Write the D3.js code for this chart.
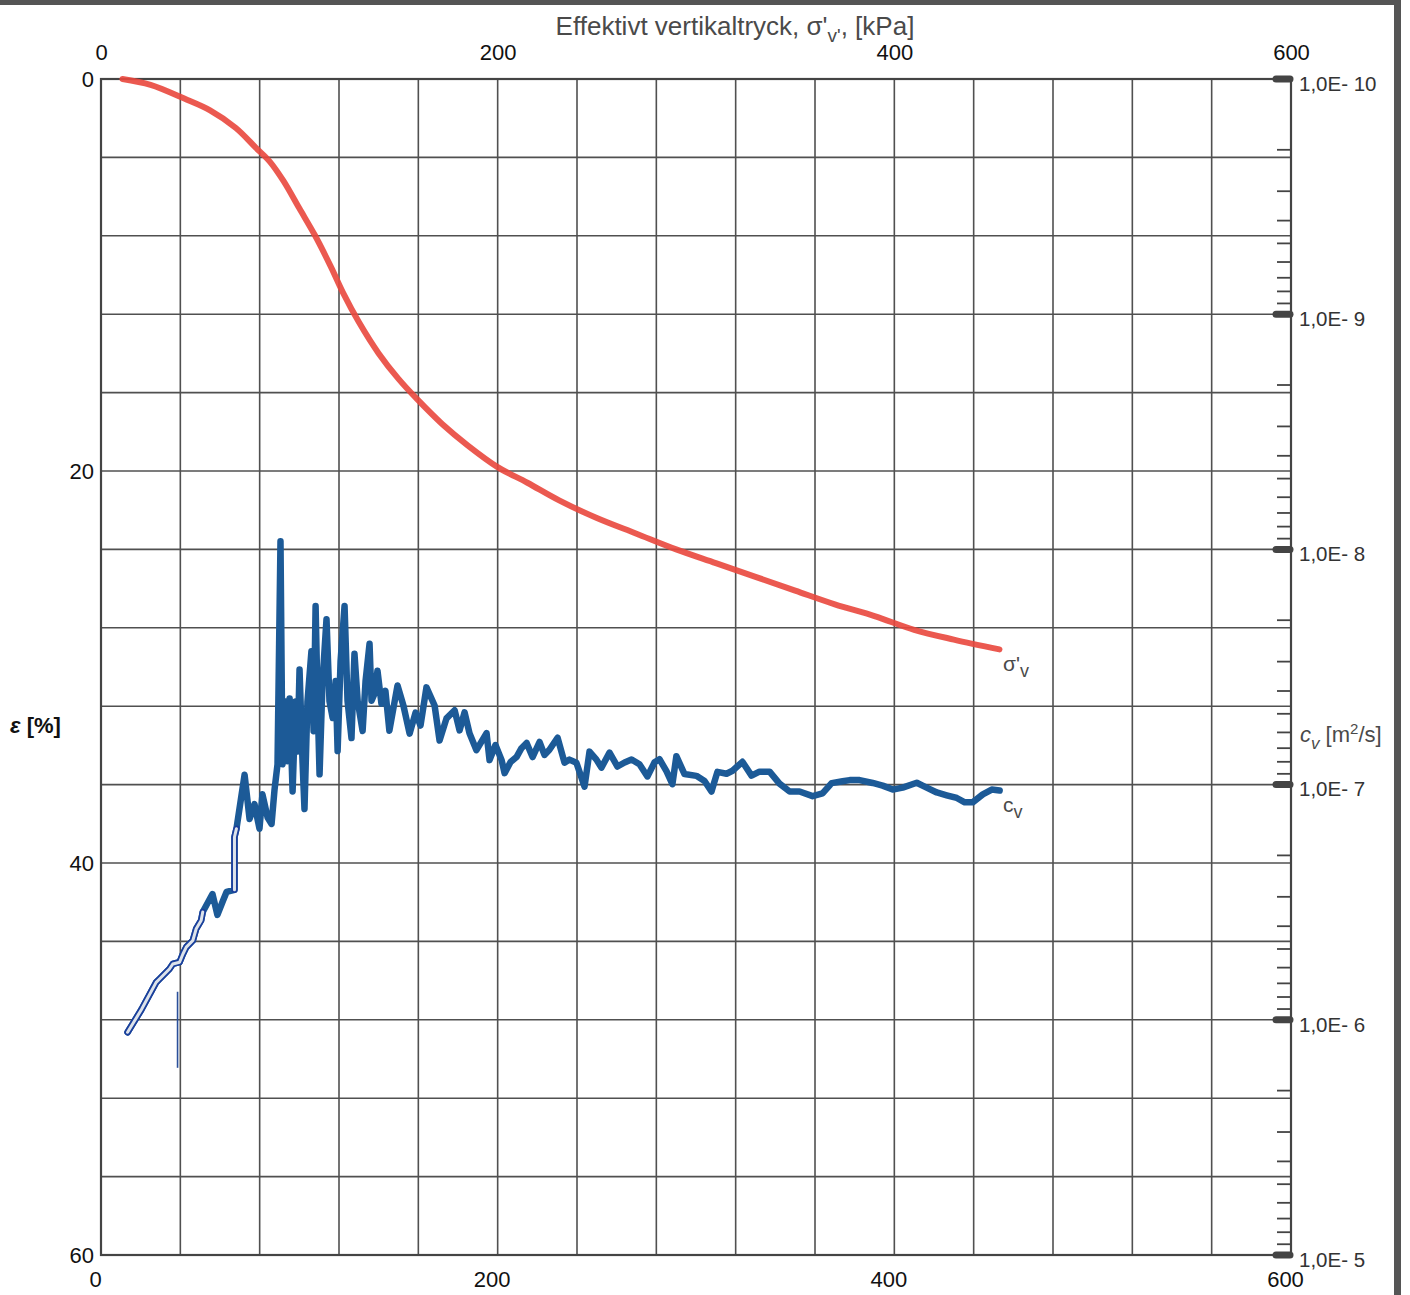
<!DOCTYPE html>
<html>
<head>
<meta charset="utf-8">
<script src="https://cdn.jsdelivr.net/npm/d3@7"></script>
<style>
  html, body { margin: 0; padding: 0; background: #fff; }
  svg { display: block; }
  text { font-family: "Liberation Sans", Arial, sans-serif; }
</style>
</head>
<body>
<svg id="chart" width="1410" height="1295"></svg>
<script>
// Compression curve: effective vertical stress [kPa] vs strain [%]
const strainSigmaKpa = [10.8, 25, 42, 55, 68, 78, 85, 92, 100, 108, 116, 122, 130, 140, 150, 160,
                        172, 185, 200, 215, 231, 250, 270, 290, 310, 330, 350, 370, 390, 410, 430, 453];
const strainPct      = [0.0, 0.3, 1.0, 1.6, 2.5, 3.5, 4.2, 5.2, 6.6, 8.0, 9.6, 10.9, 12.4, 14.0, 15.3, 16.4,
                        17.6, 18.7, 19.8, 20.6, 21.5, 22.4, 23.2, 24.0, 24.7, 25.4, 26.1, 26.8, 27.4, 28.1, 28.6, 29.1];

// Coefficient of consolidation: effective vertical stress [kPa] vs cv [m2/s]
const cvSigmaKpa = [
  13.4, 20.4, 27.8, 29.5, 34.5, 36.2, 39.6, 41.3, 43.0, 46.3,
  48.0, 50.5, 51.3, 56.2, 58.7, 61.3, 63.3, 67.3, 67.3, 68.3,
  72.4, 74.9, 77.4, 79.9, 81.4, 84.0, 86.0, 87.5, 89.0, 90.5,
  91.5, 93.0, 94.0, 95.1, 96.6, 98.1, 99.1, 100.1, 101.6, 102.6,
  104.1, 106.1, 107.2, 108.2, 109.2, 110.2, 111.7, 113.7, 115.2, 116.8,
  118.3, 119.3, 120.8, 122.8, 124.3, 126.3, 127.8, 129.4, 131.9, 133.4,
  135.4, 136.4, 137.9, 139.4, 141.4, 143.4, 145.4, 149.5, 152.5, 155.6,
  158.6, 161.1, 164.1, 168.2, 170.7, 174.2, 178.3, 180.8, 183.3, 185.8,
  189.3, 194.4, 195.9, 198.9, 202.0, 203.5, 206.5, 209.5, 212.0, 214.6,
  217.6, 221.1, 223.6, 226.1, 230.2, 233.7, 236.2, 239.7, 243.8, 246.3,
  249.8, 252.3, 256.4, 260.4, 264.0, 267.5, 271.5, 275.5, 279.1, 281.6,
  285.1, 288.1, 290.1, 294.2, 300.2, 304.3, 307.8, 310.8, 315.4, 318.4,
  323.4, 328.0, 332.0, 337.1, 342.1, 347.2, 352.2, 358.8, 363.8, 368.4,
  373.9, 377.5, 382.5, 389.1, 394.1, 399.2, 404.2, 411.3, 416.3, 421.4,
  426.4, 431.5, 435.5, 439.5, 444.6, 449.1, 453.1
];
const cvM2s = [
  1.13e-6, 9.04e-7, 6.93e-7, 6.71e-7, 6.08e-7, 5.79e-7, 5.69e-7, 5.25e-7, 4.91e-7, 4.60e-7,
  4.10e-7, 3.78e-7, 3.48e-7, 2.92e-7, 3.58e-7, 3.15e-7, 2.86e-7, 2.80e-7, 1.67e-7, 1.54e-7,
  9.08e-8, 1.40e-7, 1.21e-7, 1.54e-7, 1.10e-7, 1.38e-7, 1.47e-7, 1.05e-7, 8.20e-8, 9.23e-9,
  8.20e-8, 4.43e-8, 7.96e-8, 4.30e-8, 1.07e-7, 4.43e-8, 7.23e-8, 3.24e-8, 7.96e-8, 1.27e-7,
  4.43e-8, 2.71e-8, 5.93e-8, 1.74e-8, 4.42e-8, 9.04e-8, 3.63e-8, 1.98e-8, 4.42e-8, 5.21e-8,
  3.63e-8, 7.20e-8, 2.98e-8, 1.74e-8, 4.41e-8, 6.34e-8, 2.78e-8, 4.40e-8, 5.92e-8, 3.62e-8,
  2.52e-8, 4.40e-8, 4.11e-8, 3.28e-8, 4.53e-8, 3.99e-8, 5.90e-8, 3.79e-8, 4.62e-8, 6.07e-8,
  4.94e-8, 5.61e-8, 3.86e-8, 4.61e-8, 6.49e-8, 5.23e-8, 4.83e-8, 5.88e-8, 4.93e-8, 6.05e-8,
  7.14e-8, 6.04e-8, 7.87e-8, 6.79e-8, 7.87e-8, 8.94e-8, 8.02e-8, 7.64e-8, 7.00e-8, 6.65e-8,
  7.64e-8, 6.59e-8, 7.48e-8, 7.11e-8, 6.32e-8, 8.07e-8, 7.83e-8, 8.07e-8, 1.02e-7, 7.24e-8,
  7.83e-8, 8.47e-8, 7.31e-8, 8.38e-8, 8.05e-8, 7.82e-8, 8.20e-8, 9.23e-8, 8.04e-8, 7.80e-8,
  8.77e-8, 9.96e-8, 7.57e-8, 9.02e-8, 9.18e-8, 9.66e-8, 1.07e-7, 8.83e-8, 8.99e-8, 8.73e-8,
  8.00e-8, 9.16e-8, 8.81e-8, 8.81e-8, 9.91e-8, 1.07e-7, 1.07e-7, 1.12e-7, 1.09e-7, 9.86e-8,
  9.68e-8, 9.57e-8, 9.57e-8, 9.84e-8, 1.01e-7, 1.05e-7, 1.03e-7, 9.82e-8, 1.03e-7, 1.08e-7,
  1.11e-7, 1.14e-7, 1.19e-7, 1.19e-7, 1.10e-7, 1.05e-7, 1.06e-7
];
// Index ranges of the cv record drawn as an outlined (hollow) stroke
const cvOutlinedRanges = [[0, 12], [17, 19]];

// Thin vertical cv marker
const cvMarkerSigmaKpa = 38.6;
const cvMarkerRange = [7.6e-7, 1.6e-6];

// Axis ticks
const pressureTicks = [0, 200, 400, 600];
const strainTicks = [0, 20, 40, 60];
const cvTicks = [1e-10, 1e-9, 1e-8, 1e-7, 1e-6, 1e-5];
const cvTickLabels = ["1,0E- 10", "1,0E- 9", "1,0E- 8", "1,0E- 7", "1,0E- 6", "1,0E- 5"];

const svg = d3.select("#chart");
const plot = { left: 101, right: 1291, top: 79, bottom: 1255 };

const x = d3.scaleLinear().domain([0, 600]).range([plot.left, plot.right]);
const y = d3.scaleLinear().domain([0, 60]).range([plot.top, plot.bottom]);
const yCv = d3.scaleLog().domain([1e-10, 1e-5]).range([plot.top, plot.bottom]);

const gridColor = "#505050";

// Page edge bars
svg.append("rect").attr("x", 0).attr("y", 0).attr("width", 1400).attr("height", 5).attr("fill", "#555");
svg.append("rect").attr("x", 1394).attr("y", 0).attr("width", 7).attr("height", 1295).attr("fill", "#555");

// Grid
const grid = svg.append("g");
grid.selectAll("line.v").data(d3.range(0, 601, 40)).join("line")
  .attr("x1", d => x(d)).attr("x2", d => x(d))
  .attr("y1", plot.top).attr("y2", plot.bottom)
  .attr("stroke", gridColor).attr("stroke-width", 1.6);
grid.selectAll("line.h").data(d3.range(0, 61, 4)).join("line")
  .attr("x1", plot.left).attr("x2", plot.right)
  .attr("y1", d => y(d)).attr("y2", d => y(d))
  .attr("stroke", gridColor).attr("stroke-width", 1.6);

// Frame
svg.append("rect")
  .attr("x", plot.left).attr("y", plot.top)
  .attr("width", plot.right - plot.left).attr("height", plot.bottom - plot.top)
  .attr("fill", "none").attr("stroke", "#444").attr("stroke-width", 2.2);

function styleAxis(g, size, color) {
  g.select(".domain").remove();
  g.selectAll("text")
    .attr("font-family", "'Liberation Sans', Arial, sans-serif")
    .attr("font-size", size)
    .attr("fill", color);
}

// Top pressure axis
svg.append("g").attr("transform", `translate(0,${plot.top})`)
  .call(d3.axisTop(x).tickValues(pressureTicks).tickSize(0).tickPadding(19).tickFormat(d3.format("d")))
  .call(g => styleAxis(g, 22, "#111"));

// Bottom pressure axis
svg.append("g").attr("transform", `translate(0,${plot.bottom})`)
  .call(d3.axisBottom(x).tickValues(pressureTicks).tickSize(0).tickPadding(16).tickFormat(d3.format("d")))
  .call(g => styleAxis(g, 22, "#111"))
  .call(g => g.selectAll("text").attr("dx", -6));

// Left strain axis
svg.append("g").attr("transform", `translate(${plot.left},0)`)
  .call(d3.axisLeft(y).tickValues(strainTicks).tickSize(0).tickPadding(7).tickFormat(d3.format("d")))
  .call(g => styleAxis(g, 22, "#111"));

// Right cv axis (log)
svg.append("g").attr("transform", `translate(${plot.right},0)`)
  .call(d3.axisRight(yCv).tickValues(cvTicks).tickSize(0).tickPadding(8).tickFormat((d, i) => cvTickLabels[i]))
  .call(g => styleAxis(g, 20.5, "#333"))
  .call(g => g.selectAll("text").attr("dy", "0.55em"));

// Minor log ticks
const minorTicks = [];
for (let e = -10; e < -5; e++) for (let m = 2; m <= 9; m++) minorTicks.push(m * Math.pow(10, e));
svg.append("g").selectAll("line").data(minorTicks).join("line")
  .attr("x1", plot.right - 14).attr("x2", plot.right)
  .attr("y1", d => yCv(d)).attr("y2", d => yCv(d))
  .attr("stroke", "#444").attr("stroke-width", 1.8);

// Decade ticks as heavy bars
svg.append("g").selectAll("line").data(cvTicks).join("line")
  .attr("x1", plot.right - 15).attr("x2", plot.right - 1)
  .attr("y1", d => yCv(d)).attr("y2", d => yCv(d))
  .attr("stroke", "#444").attr("stroke-width", 7).attr("stroke-linecap", "round");

// Strain curve
const strainData = strainSigmaKpa.map((s, i) => [s, strainPct[i]]);
svg.append("path").datum(strainData)
  .attr("d", d3.line().x(d => x(d[0])).y(d => y(d[1])).curve(d3.curveCatmullRom))
  .attr("fill", "none").attr("stroke", "#e9473d").attr("stroke-width", 6)
  .attr("stroke-linecap", "round").attr("stroke-opacity", 0.9);

// cv curve
const cvData = cvSigmaKpa.map((s, i) => [s, cvM2s[i]]);
const cvLine = d3.line().x(d => x(d[0])).y(d => yCv(d[1]));
const blue = "#1c5a97";
svg.append("path").datum(cvData)
  .attr("d", cvLine)
  .attr("fill", "none").attr("stroke", blue).attr("stroke-width", 6.5)
  .attr("stroke-linejoin", "round").attr("stroke-linecap", "round");

cvOutlinedRanges.forEach(([a, b]) => {
  const seg = cvData.slice(a, b + 1);
  svg.append("path").datum(seg).attr("d", cvLine)
    .attr("fill", "none").attr("stroke", "#1a3f9c").attr("stroke-width", 6.5)
    .attr("stroke-linejoin", "round").attr("stroke-linecap", "round");
  svg.append("path").datum(seg).attr("d", cvLine)
    .attr("fill", "none").attr("stroke", "#dde3ea").attr("stroke-width", 3)
    .attr("stroke-linejoin", "round").attr("stroke-linecap", "round");
});

svg.append("line")
  .attr("x1", x(cvMarkerSigmaKpa)).attr("x2", x(cvMarkerSigmaKpa))
  .attr("y1", yCv(cvMarkerRange[0])).attr("y2", yCv(cvMarkerRange[1]))
  .attr("stroke", "#2a4f9a").attr("stroke-width", 1.6);

// Titles and curve labels
const title = svg.append("text").attr("x", 735).attr("y", 35)
  .attr("text-anchor", "middle").attr("font-size", 26).attr("fill", "#4a4a4a");
title.append("tspan").text("Effektivt vertikaltryck, σ'");
title.append("tspan").attr("dy", 7).attr("font-size", 19).text("v'");
title.append("tspan").attr("dy", -7).text(", [kPa]");

const eps = svg.append("text").attr("x", 10).attr("y", 733).attr("font-size", 22).attr("fill", "#111");
eps.append("tspan").attr("font-style", "italic").attr("font-weight", "bold").text("ε");
eps.append("tspan").attr("font-weight", "bold").text(" [%]");

const cvTitle = svg.append("text").attr("x", 1300).attr("y", 742).attr("font-size", 22).attr("fill", "#4a4a4a");
cvTitle.append("tspan").attr("font-style", "italic").text("c");
cvTitle.append("tspan").attr("font-style", "italic").attr("dy", 7).attr("font-size", 17).text("v");
cvTitle.append("tspan").attr("dy", -7).text(" [m");
cvTitle.append("tspan").attr("dy", -8).attr("font-size", 15).text("2");
cvTitle.append("tspan").attr("dy", 8).text("/s]");

const sigLabel = svg.append("text").attr("x", 1003).attr("y", 671).attr("font-size", 21).attr("fill", "#4a4a4a");
sigLabel.append("tspan").text("σ'");
sigLabel.append("tspan").attr("dy", 6).attr("font-size", 18).text("v");

const cvLabel = svg.append("text").attr("x", 1003).attr("y", 812).attr("font-size", 21).attr("fill", "#4a4a4a");
cvLabel.append("tspan").text("c");
cvLabel.append("tspan").attr("dy", 6).attr("font-size", 18).text("v");
</script>
</body>
</html>
